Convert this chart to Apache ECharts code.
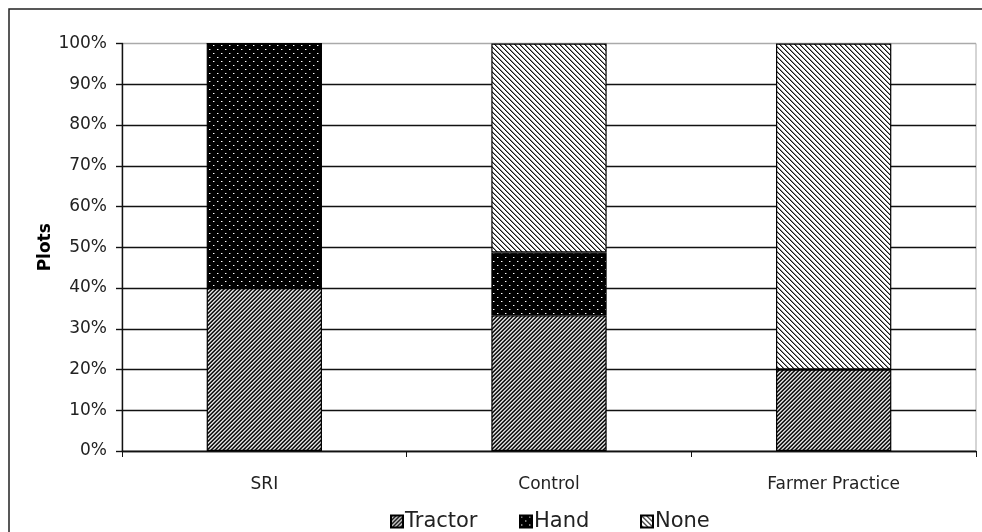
<!DOCTYPE html>
<html>
<head>
<meta charset="utf-8">
<script src="https://cdn.jsdelivr.net/npm/echarts@6/dist/echarts.min.js"></script>
<style>
  html, body { margin: 0; padding: 0; background: #fff; }
  #chart { width: 982px; height: 532px; }
</style>
</head>
<body>
<div id="chart"></div>
<script>
// Share of plots by weeding method, per treatment (percent)
const categories = ['SRI', 'Control', 'Farmer Practice'];
const tractor = [40, 33.3, 20];
const hand = [60, 15.4, 0];
const none = [0, 51.3, 80];
const seriesNames = ['Tractor', 'Hand', 'None'];
const yAxisTitle = 'Plots';

// Build a small repeating fill tile, pixel by pixel
function makeTile(w, h, pick) {
  const c = document.createElement('canvas');
  c.width = w; c.height = h;
  const ctx = c.getContext('2d');
  const img = ctx.createImageData(w, h);
  for (let y = 0; y < h; y++) {
    for (let x = 0; x < w; x++) {
      const v = pick(x, y);
      const i = (y * w + x) * 4;
      img.data[i] = v; img.data[i + 1] = v; img.data[i + 2] = v; img.data[i + 3] = 255;
    }
  }
  ctx.putImageData(img, 0, 0);
  return c;
}

// dense "/" stripes
const tractorTile = makeTile(4, 4, (x, y) => {
  const k = ((x + y) % 4 + 4) % 4;
  return k === 0 ? 10 : k === 1 ? 60 : k === 2 ? 225 : 160;
});
// black with light dots, staggered rows
const handTile = makeTile(8, 8, (x, y) => {
  if ((x === 1 && y === 1) || (x === 5 && y === 5)) return 255;
  if ((x === 2 && y === 1) || (x === 6 && y === 5)) return 110;
  return 0;
});
// white with thin "\" lines
const noneTile = makeTile(5, 5, (x, y) => {
  const k = ((x - y) % 5 + 5) % 5;
  return k === 0 ? 20 : k === 1 ? 140 : 255;
});

const fills = [
  { image: tractorTile, repeat: 'repeat' },
  { image: handTile, repeat: 'repeat' },
  { image: noneTile, repeat: 'repeat' }
];
const values = [tractor, hand, none];

const font = '"DejaVu Sans", Verdana, sans-serif';
// grid lines are black; the 100% line sits on the plot frame and is grey
const gridColors = ['#111', '#111', '#111', '#111', '#111', '#111', '#111', '#111', '#111', '#111', '#aaa'];

// one legend entry per slot along the bottom
const legendSlots = [385, 514, 635];
const legends = seriesNames.map((name, i) => ({
  left: legendSlots[i], top: 506,
  itemWidth: 12, itemHeight: 12,
  icon: 'rect',
  textStyle: { fontFamily: font, fontSize: 21, color: '#222', padding: [0, 0, 0, -3] },
  data: [name]
}));

const chart = echarts.init(document.getElementById('chart'), null, { renderer: 'canvas' });

chart.setOption({
  animation: false,
  backgroundColor: '#fff',
  graphic: [{
    type: 'rect',
    shape: { x: 9, y: 9, width: 1000, height: 560 },
    style: { fill: 'none', stroke: '#222', lineWidth: 1.5 },
    silent: true
  }],
  grid: {
    left: 122, right: 6, top: 43.5, bottom: 81,
    show: true, borderColor: '#aaa', borderWidth: 1, backgroundColor: 'transparent'
  },
  legend: legends,
  xAxis: {
    type: 'category',
    data: categories,
    axisLine: { lineStyle: { color: '#111', width: 1.4 } },
    axisTick: { show: true, length: 6, lineStyle: { color: '#111' } },
    axisLabel: { fontFamily: font, fontSize: 17, color: '#222', margin: 25 },
    splitLine: { show: false }
  },
  yAxis: {
    type: 'value',
    min: 0, max: 100, interval: 10,
    name: yAxisTitle,
    nameLocation: 'middle',
    nameGap: 68,
    nameMoveOverlap: false,
    nameTextStyle: { fontFamily: font, fontSize: 17, fontWeight: 'bold', color: '#000' },
    axisLine: { show: true, lineStyle: { color: '#111', width: 1.4 } },
    axisTick: { show: true, length: 6, lineStyle: { color: '#111', width: 1.4 } },
    axisLabel: { fontFamily: font, fontSize: 17, color: '#222', margin: 15, formatter: '{value}%' },
    splitLine: { show: true, lineStyle: { color: gridColors, width: 1.4 } }
  },
  series: seriesNames.map((name, i) => ({
    name: name,
    type: 'bar',
    stack: 'plots',
    barWidth: '40.5%',
    data: values[i],
    itemStyle: { color: fills[i], borderColor: '#000', borderWidth: 1.2 },
    emphasis: { disabled: true }
  }))
});
</script>
</body>
</html>
